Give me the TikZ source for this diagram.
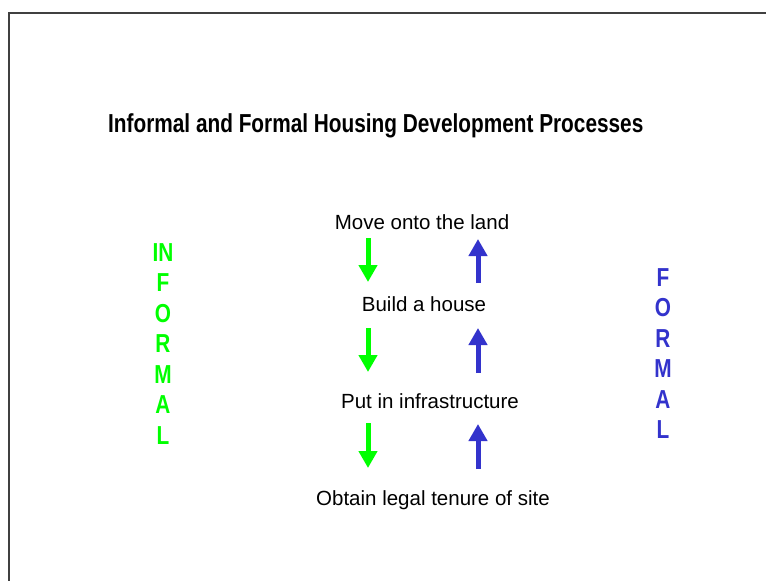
\documentclass[tikz,border=0pt]{standalone}
\usepackage{fontspec}
\setmainfont{Liberation Sans}
\newfontfamily\narrowsans[FakeStretch=0.8]{Liberation Sans}
\usepackage{tikz}
\usetikzlibrary{arrows.meta,positioning}

\definecolor{infgreen}{RGB}{0,255,0}
\definecolor{formblue}{RGB}{51,51,204}

\tikzset{
  step text/.style={font=\fontsize{20.5}{24}\selectfont, inner sep=0pt, anchor=base},
  side word/.style={font=\narrowsans\bfseries\fontsize{26}{30.5}\selectfont, align=center, inner sep=0pt, anchor=north},
  flow/.style={line width=5pt, -{Triangle[width=18pt,length=17pt]}},
}

\begin{document}
\begin{tikzpicture}[x=1pt,y=-1pt]
  \useasboundingbox (0,0) rectangle (766,581);
  % slide frame, only the top and left edges show
  \draw[line width=1.5pt, black!75] (9,581) -- (9,13) -- (766,13);

  \node[font=\narrowsans\bfseries\fontsize{26}{30}\selectfont, inner sep=0pt, anchor=base west]
    (title) at (108,132) {Informal and Formal Housing Development Processes};

  % the four steps
  \node[step text] (move)   at (422,229) {Move onto the land};
  \node[step text] (build)  at (424,311) {Build a house};
  \node[step text] (infra)  at (430,408) {Put in infrastructure};
  \node[step text] (tenure) at (433,505) {Obtain legal tenure of site};

  % side labels
  \node[side word, text=infgreen] (informal) at (163,243) {IN\\F\\O\\R\\M\\A\\L};
  \node[side word, text=formblue] (formal)   at (663,268) {F\\O\\R\\M\\A\\L};

  % arrow ends
  \coordinate (g1) at (368,238); \coordinate (g1t) at (368,282);
  \coordinate (g2) at (368,328); \coordinate (g2t) at (368,372);
  \coordinate (g3) at (368,423); \coordinate (g3t) at (368,468);
  \coordinate (b1) at (478,283); \coordinate (b1t) at (478,239);
  \coordinate (b2) at (478,373); \coordinate (b2t) at (478,328);
  \coordinate (b3) at (478,469); \coordinate (b3t) at (478,424);

  % informal goes down, formal goes up
  \draw[flow, infgreen] (g1) -- (g1t);
  \draw[flow, infgreen] (g2) -- (g2t);
  \draw[flow, infgreen] (g3) -- (g3t);
  \draw[flow, formblue] (b1) -- (b1t);
  \draw[flow, formblue] (b2) -- (b2t);
  \draw[flow, formblue] (b3) -- (b3t);
\end{tikzpicture}
\end{document}
